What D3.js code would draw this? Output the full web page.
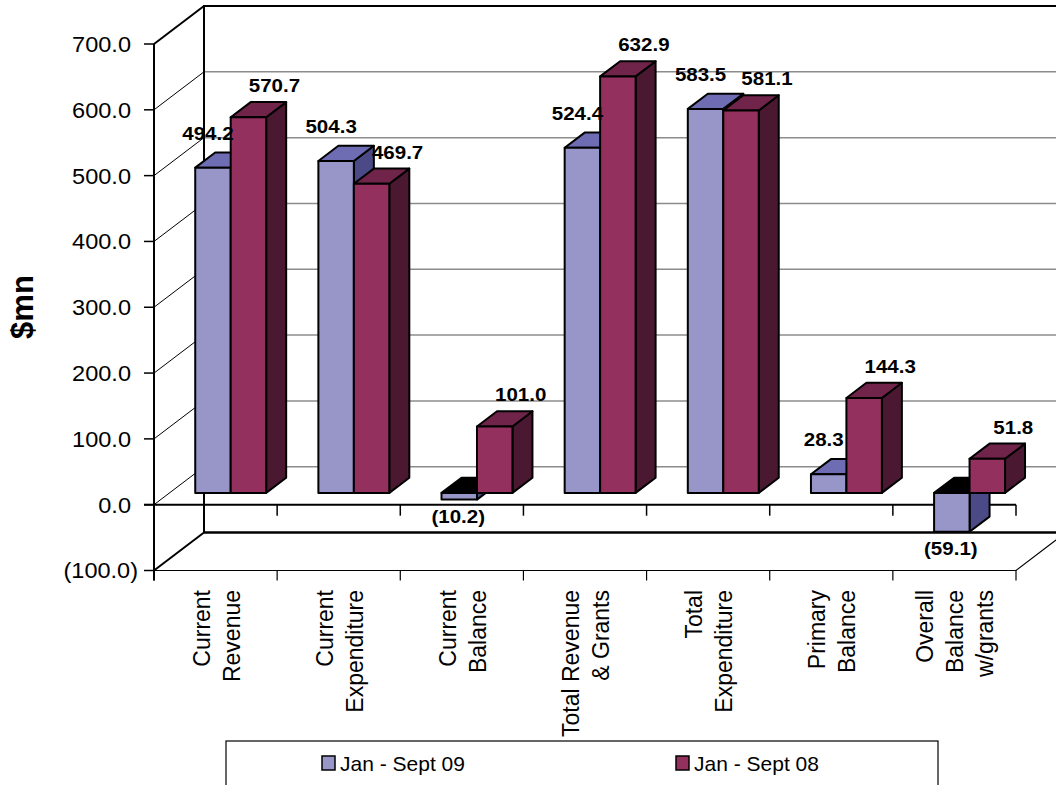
<!DOCTYPE html>
<html><head><meta charset="utf-8">
<script src="https://cdn.jsdelivr.net/npm/d3@7"></script>
<style>
body{margin:0;background:#fff}
svg{display:block}
text{font-family:Arial,"Liberation Sans",sans-serif;fill:#000}
</style>
</head><body>
<svg id="chart" width="1056" height="785"></svg>
<script>
// ---------- data ----------
const categories = ["Current Revenue","Current Expenditure","Current Balance","Total Revenue & Grants","Total Expenditure","Primary Balance","Overall Balance w/grants"];
const categoryLines = [["Current","Revenue"],["Current","Expenditure"],["Current","Balance"],["Total Revenue","& Grants"],["Total","Expenditure"],["Primary","Balance"],["Overall","Balance","w/grants"]];
const seriesNames = ["Jan - Sept 09","Jan - Sept 08"];
const sept09 = [494.2, 504.3, -10.2, 524.4, 583.5, 28.3, -59.1];
const sept08 = [570.7, 469.7, 101.0, 632.9, 581.1, 144.3, 51.8];
const yTicks = [-100, 0, 100, 200, 300, 400, 500, 600, 700];
const yTitle = "$mn";

// ---------- styles ----------
const faceColors = [
  {front:"#9896c9", top:"#6e6cb3", side:"#4b4a86"},
  {front:"#93305e", top:"#70244a", side:"#4b1832"}
];
const series = [sept09, sept08];
const fmt = v => v < 0 ? "(" + d3.format(".1f")(-v) + ")" : d3.format(".1f")(v);

const svg = d3.select("#chart");

// ---------- scales / projection ----------
const DX = 50, DY = 38;          // full depth offset of the 3D box
const D0 = 0.31, D1 = 0.71;      // bar front / back depth fraction
const y = d3.scaleLinear().domain([-100, 700]).range([570.5, 44]);
const x0 = d3.scaleBand().domain(d3.range(categories.length)).range([154, 1016]);
const x1 = d3.scaleBand().domain(d3.range(series.length))
  .range([x0.bandwidth() * 0.209, x0.bandwidth() * 0.785]);
const P = (x, v, d) => [x + DX * d, y(v) - DY * d];
const pts = arr => arr.map(p => p.join(",")).join(" ");

const xL = x0.range()[0], xR = x0.range()[1];
const vMin = y.domain()[0], vMax = y.domain()[1];

// ---------- walls ----------
const g = svg.append("g");
g.selectAll(".grid").data(yTicks.filter(t => t > vMin && t < vMax)).join("line")
  .attr("x1", P(xL, 0, 1)[0]).attr("x2", P(xR, 0, 1)[0] + 10)
  .attr("y1", t => P(xL, t, 1)[1]).attr("y2", t => P(xL, t, 1)[1])
  .attr("stroke", "#8c8c8c").attr("stroke-width", 1.5);
g.selectAll(".diag").data(yTicks.filter(t => t > vMin && t < vMax)).join("line")
  .attr("x1", xL).attr("y1", t => y(t))
  .attr("x2", P(xL, 0, 1)[0]).attr("y2", t => P(xL, t, 1)[1])
  .attr("stroke", "#000").attr("stroke-width", 1);
g.append("polyline")
  .attr("points", pts([P(xL, vMin, 1), P(xL, vMax, 1), P(xR, vMax, 1)]))
  .attr("fill", "none").attr("stroke", "#000").attr("stroke-width", 2);
g.append("line")
  .attr("x1", P(xL, vMin, 1)[0]).attr("y1", P(xL, vMin, 1)[1])
  .attr("x2", P(xR, vMin, 1)[0]).attr("y2", P(xR, vMin, 1)[1])
  .attr("stroke", "#000").attr("stroke-width", 2.5);
g.append("line").attr("x1", xL).attr("y1", y(vMax))
  .attr("x2", P(xL, vMax, 1)[0]).attr("y2", P(xL, vMax, 1)[1])
  .attr("stroke", "#000").attr("stroke-width", 2);
g.append("line").attr("x1", xL).attr("y1", y(vMin))
  .attr("x2", P(xL, vMin, 1)[0]).attr("y2", P(xL, vMin, 1)[1])
  .attr("stroke", "#000").attr("stroke-width", 2);
g.append("polyline")
  .attr("points", pts([[xL, y(vMin)], [xR, y(vMin)], P(xR, vMin, 1)]))
  .attr("fill", "none").attr("stroke", "#000").attr("stroke-width", 1.2);
const bounds = d3.range(categories.length + 1).map(i => xL + i * x0.step());
g.selectAll(".ftick").data(bounds).join("line")
  .attr("x1", d => d).attr("x2", d => d)
  .attr("y1", y(vMin)).attr("y2", y(vMin) + 10)
  .attr("stroke", "#000").attr("stroke-width", 1.2);
g.append("line").attr("x1", xL - 10).attr("x2", xR)
  .attr("y1", y(0)).attr("y2", y(0))
  .attr("stroke", "#000").attr("stroke-width", 2);
g.selectAll(".ztick").data(bounds).join("line")
  .attr("x1", d => d).attr("x2", d => d)
  .attr("y1", y(0)).attr("y2", y(0) + 11)
  .attr("stroke", "#000").attr("stroke-width", 1.5);

// ---------- value axis ----------
const yAxis = svg.append("g");
yAxis.append("line").attr("x1", xL).attr("x2", xL)
  .attr("y1", y(vMax)).attr("y2", y(vMin) + 10)
  .attr("stroke", "#000").attr("stroke-width", 2);
yAxis.selectAll(".yt").data(yTicks).join("line")
  .attr("x1", xL - 10).attr("x2", xL)
  .attr("y1", d => y(d)).attr("y2", d => y(d))
  .attr("stroke", "#000").attr("stroke-width", 1.5);
yAxis.selectAll(".yl").data(yTicks).join("text")
  .attr("transform", d => `translate(${d < 0 ? 138 : 131},${y(d)}) scale(1.07,1)`)
  .attr("text-anchor", "end").attr("dy", "0.36em")
  .style("font-size", "22px")
  .text(fmt);
svg.append("text")
  .attr("transform", "translate(22,307) rotate(-90)")
  .attr("text-anchor", "middle").attr("dy", "0.35em")
  .style("font-size", "31px").style("font-weight", "bold")
  .text(yTitle);

// ---------- bars ----------
const bars = svg.append("g");
categories.forEach((c, i) => {
  series.forEach((s, k) => {
    const v = s[i];
    const xl = x0(i) + x1(k), xr = xl + x1.bandwidth();
    const lo = Math.min(0, v), hi = Math.max(0, v);
    const col = faceColors[k];
    const bg = bars.append("g").attr("stroke", "#000").attr("stroke-width", 2).attr("stroke-linejoin", "round");
    bg.append("polygon").attr("fill", col.side)
      .attr("points", pts([P(xr, lo, D0), P(xr, lo, D1), P(xr, hi, D1), P(xr, hi, D0)]));
    bg.append("polygon").attr("fill", v < 0 ? "#000" : col.top)
      .attr("points", pts([P(xl, hi, D0), P(xr, hi, D0), P(xr, hi, D1), P(xl, hi, D1)]));
    bg.append("polygon").attr("fill", col.front)
      .attr("points", pts([P(xl, lo, D0), P(xr, lo, D0), P(xr, hi, D0), P(xl, hi, D0)]));
  });
});

// ---------- data labels ----------
const labels = svg.append("g");
categories.forEach((c, i) => {
  series.forEach((s, k) => {
    const v = s[i];
    const cx = x0(i) + x1(k) + x1.bandwidth() / 2;
    let lx, ly;
    if (v >= 0) {
      const t = P(cx, v, (D0 + D1) / 2);
      lx = t[0] + (k === 0 ? -15 : 16);
      ly = t[1] - (k === 0 ? 27 : 24);
    } else {
      const b = P(cx, v, D0);
      lx = b[0] - 1; ly = b[1] + 17;
    }
    labels.append("text")
      .attr("transform", `translate(${lx},${ly}) scale(1.14,1)`)
      .attr("text-anchor", "middle").attr("dy", "0.36em")
      .style("font-size", "18px").style("font-weight", "bold")
      .text(fmt(v));
  });
});

// ---------- category labels ----------
const catG = svg.append("g");
categoryLines.forEach((lines, i) => {
  const cx = x0(i) + x0.bandwidth() / 2;
  const lh = 30;
  lines.forEach((ln, j) => {
    const lx = cx + (j - (lines.length - 1) / 2) * lh;
    catG.append("text")
      .attr("transform", `translate(${lx},590) rotate(-90) scale(1,1.08)`)
      .attr("text-anchor", "end").attr("dy", "0.36em")
      .style("font-size", "23px")
      .text(ln);
  });
});

// ---------- legend ----------
const leg = svg.append("g");
leg.append("rect").attr("x", 226).attr("y", 741).attr("width", 712).attr("height", 80)
  .attr("fill", "#fff").attr("stroke", "#000").attr("stroke-width", 1.2);
const legX = [322, 676];
seriesNames.forEach((n, k) => {
  leg.append("rect").attr("x", legX[k]).attr("y", 756).attr("width", 13).attr("height", 14)
    .attr("fill", faceColors[k].front).attr("stroke", "#000").attr("stroke-width", 1.5);
  leg.append("text").attr("x", legX[k] + 18).attr("y", 763).attr("dy", "0.36em")
    .style("font-size", "21px").text(n);
});
</script>
</body></html>
